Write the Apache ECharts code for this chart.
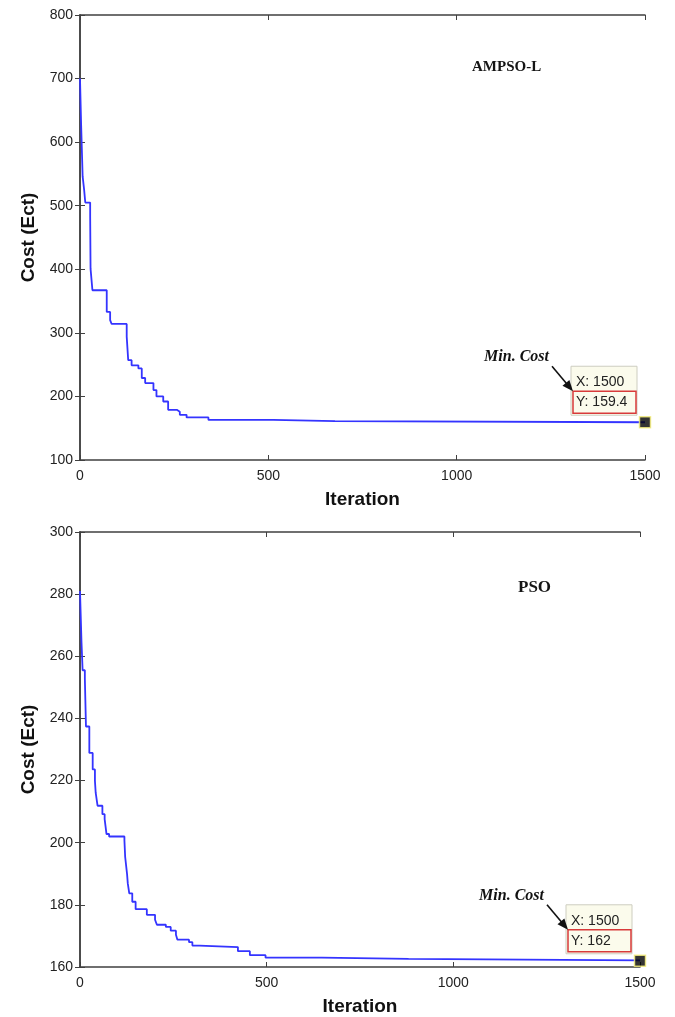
<!DOCTYPE html>
<html><head><meta charset="utf-8">
<script src="https://cdn.jsdelivr.net/npm/echarts@6/dist/echarts.min.js"></script>
<style>html,body{margin:0;padding:0;background:#fff}#c{width:675px;height:1017px}</style>
</head><body><div id="c"></div>
<script>
// ---- data ----
const ampsoIter = [0,3,7,11,14,27,28,33,71,80,84,124,128,137,155,164,173,195,203,221,234,257,265,283,341,513,677,1500];
const ampsoCost = [700,627,546,525,505,483,401,367,333,320,314,294,257,249,244,229,221,210,200,192,179,176,171,167,163,161,159.4,159.4];
const psoIter = [0,4,7,13,16,25,34,40,42,47,60,66,71,78,119,121,126,128,132,140,149,179,201,206,230,243,257,261,292,301,320,423,455,497,648,880,1500];
const psoCost = [281,264.5,255.5,252.8,237.4,228.9,223.6,219.9,216.1,211.9,209.2,207.6,202.8,202,200.7,195.4,190,186.9,183.7,181,178.6,176.8,175.2,173.6,172.9,171.7,170.4,168.8,168,166.9,166.4,165.1,163.8,163,162.6,162.1,162];
const xTicks = [0,500,1000,1500];
const ampsoYTicks = [100,200,300,400,500,600,700,800];
const psoYTicks = [160,180,200,220,240,260,280,300];
const titles = ['AMPSO-L','PSO'];
const tipX = ['X: 1500','X: 1500'];
const tipY = ['Y: 159.4','Y: 162'];

const zip = (a,b)=>a.map((v,i)=>[v,b[i]]);
const chart = echarts.init(document.getElementById('c'), null, {renderer:'canvas'});
const axisCol = '#404040';
const lblFont = {fontFamily:'Liberation Sans', fontSize:14, color:'#222'};
const nameFont = {fontFamily:'Liberation Sans', fontSize:19, fontWeight:'bold', color:'#111'};

function xAxes(grid){
  const base = {gridIndex:grid, type:'value', min:xTicks[0], max:xTicks[xTicks.length-1], interval:xTicks[1]-xTicks[0],
    splitLine:{show:false}, axisLine:{show:true, lineStyle:{color:axisCol, width:1.5}},
    axisTick:{show:true, inside:true, length:5, lineStyle:{color:axisCol}}};
  return [
    Object.assign({}, base, {position:'bottom', axisLabel:Object.assign({margin:9, formatter:v=>String(v)}, lblFont),
      name:'Iteration', nameLocation:'middle', nameGap:30, nameTextStyle:nameFont}),
    Object.assign({}, base, {position:'top', axisLabel:{show:false}})
  ];
}
function yAxes(grid, ticks){
  const base = {gridIndex:grid, type:'value', min:ticks[0], max:ticks[ticks.length-1], interval:ticks[1]-ticks[0],
    splitLine:{show:false}, axisLine:{show:true, lineStyle:{color:axisCol, width:1.5}},
    axisTick:{show:true, inside:true, length:5, lineStyle:{color:axisCol}}};
  return [
    Object.assign({}, base, {position:'left', axisLabel:Object.assign({margin:7, formatter:v=>String(v)}, lblFont),
      name:'Cost (Ect)', nameLocation:'middle', nameGap:42, nameTextStyle:nameFont}),
    Object.assign({}, base, {position:'right', axisLabel:{show:false}})
  ];
}

const lineStyle = {color:'#3434ff', width:1.8};
const option = {
  animation:false,
  backgroundColor:'#fff',
  grid:[
    {left:80, right:30, top:15, height:445},
    {left:80, right:35, top:532, height:439}
  ],
  xAxis:[...xAxes(0), ...xAxes(1)],
  yAxis:[...yAxes(0, ampsoYTicks), ...yAxes(1, psoYTicks)],
  title:[
    {text:titles[0], left:467, top:55, textStyle:{fontFamily:'Liberation Serif', fontSize:15, fontWeight:'bold', color:'#151515'}},
    {text:titles[1], left:513, top:574, textStyle:{fontFamily:'Liberation Serif', fontSize:17, fontWeight:'bold', color:'#151515'}}
  ],
  series:[
    {type:'line', xAxisIndex:0, yAxisIndex:0, step:'end', showSymbol:false, data:zip(ampsoIter, ampsoCost), lineStyle:lineStyle, itemStyle:{color:lineStyle.color}},
    {type:'line', xAxisIndex:2, yAxisIndex:2, step:'end', showSymbol:false, data:zip(psoIter, psoCost), lineStyle:lineStyle, itemStyle:{color:lineStyle.color}},
    {type:'scatter', xAxisIndex:0, yAxisIndex:0, symbol:'rect', symbolSize:11, clip:false, z:10,
      data:[[ampsoIter[ampsoIter.length-1], ampsoCost[ampsoCost.length-1]]],
      itemStyle:{color:'#000', borderColor:'#f6f07a', borderWidth:1.5}},
    {type:'scatter', xAxisIndex:2, yAxisIndex:2, symbol:'rect', symbolSize:11, clip:false, z:10,
      data:[[psoIter[psoIter.length-1], psoCost[psoCost.length-1]]],
      itemStyle:{color:'#000', borderColor:'#f6f07a', borderWidth:1.5}}
  ]
};
chart.setOption(option);

function tip(p, xt, yt){
  const mx=p[0], my=p[1];
  const sx = mx-93, sy = my-56, ex = mx-72, ey = my-31;
  let dx = ex-sx, dy = ey-sy; const L = Math.hypot(dx,dy); dx/=L; dy/=L;
  const nx=-dy, ny=dx, hl=11, hw=4.5;
  return [
    {type:'rect', shape:{x:mx-74, y:my-56, width:66, height:49}, style:{fill:'#fbfbec', stroke:'#cdcdc0', lineWidth:1}, z:20},
    {type:'text', x:mx-69, y:my-40, style:{text:xt, font:'14px "Liberation Sans"', fill:'#222', verticalAlign:'middle'}, z:21},
    {type:'rect', shape:{x:mx-72, y:my-31, width:63, height:22}, style:{fill:'none', stroke:'#d83a3a', lineWidth:1.5}, z:21},
    {type:'text', x:mx-69, y:my-20, style:{text:yt, font:'14px "Liberation Sans"', fill:'#222', verticalAlign:'middle'}, z:21},
    {type:'text', x:mx-96, y:my-65, style:{text:'Min. Cost', font:'italic bold 16px "Liberation Serif"', fill:'#111', align:'right', verticalAlign:'middle'}, z:21},
    {type:'line', shape:{x1:sx, y1:sy, x2:ex-dx*hl*0.8, y2:ey-dy*hl*0.8}, style:{stroke:'#111', lineWidth:1.6}, z:21},
    {type:'polygon', shape:{points:[[ex,ey],[ex-dx*hl+nx*hw, ey-dy*hl+ny*hw],[ex-dx*hl-nx*hw, ey-dy*hl-ny*hw]]}, style:{fill:'#111'}, z:21}
  ];
}
const p1 = chart.convertToPixel({xAxisIndex:0, yAxisIndex:0}, [ampsoIter[ampsoIter.length-1], ampsoCost[ampsoCost.length-1]]);
const p2 = chart.convertToPixel({xAxisIndex:2, yAxisIndex:2}, [psoIter[psoIter.length-1], psoCost[psoCost.length-1]]);
chart.setOption({graphic:[...tip(p1, tipX[0], tipY[0]), ...tip(p2, tipX[1], tipY[1])]});
</script></body></html>
